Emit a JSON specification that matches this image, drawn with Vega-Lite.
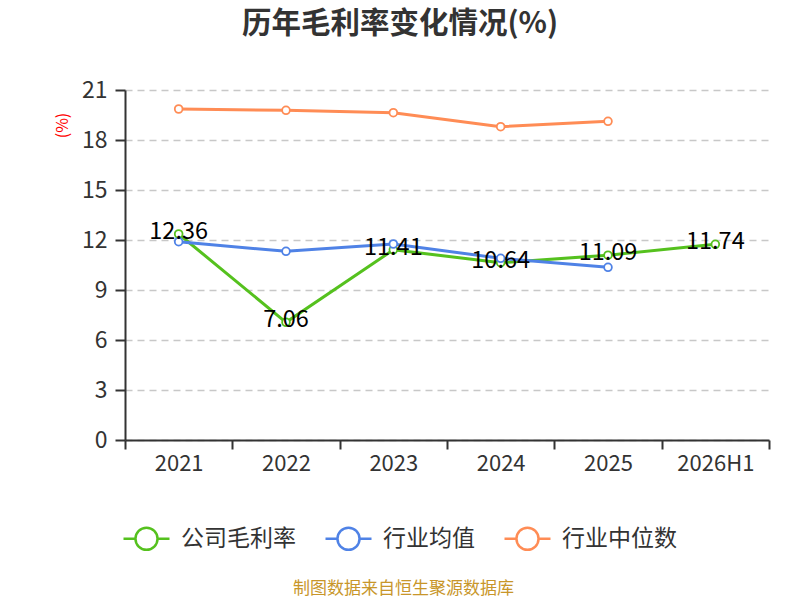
{
  "$schema": "https://vega.github.io/schema/vega-lite/v6.json",
  "autosize": {"type": "none"},
  "padding": {"left": 125, "top": 90, "right": 31, "bottom": 160},
  "width": 644,
  "height": 350,
  "background": "white",
  "view": {"stroke": null},
  "title": {
    "text": "历年毛利率变化情况(%)",
    "font": "Noto Sans CJK SC",
    "fontSize": 29.5,
    "fontWeight": "bold",
    "color": "#333333",
    "anchor": "middle",
    "dx": -47,
    "offset": 40
  },
  "data": {
    "values": [
      {"year": "2021", "series": "公司毛利率", "value": 12.36},
      {"year": "2022", "series": "公司毛利率", "value": 7.06},
      {"year": "2023", "series": "公司毛利率", "value": 11.41},
      {"year": "2024", "series": "公司毛利率", "value": 10.64},
      {"year": "2025", "series": "公司毛利率", "value": 11.09},
      {"year": "2026H1", "series": "公司毛利率", "value": 11.74},
      {"year": "2021", "series": "行业均值", "value": 11.9},
      {"year": "2022", "series": "行业均值", "value": 11.32},
      {"year": "2023", "series": "行业均值", "value": 11.76},
      {"year": "2024", "series": "行业均值", "value": 10.9},
      {"year": "2025", "series": "行业均值", "value": 10.36},
      {"year": "2021", "series": "行业中位数", "value": 19.86},
      {"year": "2022", "series": "行业中位数", "value": 19.78},
      {"year": "2023", "series": "行业中位数", "value": 19.64},
      {"year": "2024", "series": "行业中位数", "value": 18.8},
      {"year": "2025", "series": "行业中位数", "value": 19.12}
    ]
  },
  "encoding": {
    "x": {
      "field": "year",
      "type": "ordinal",
      "sort": ["2021", "2022", "2023", "2024", "2025", "2026H1"],
      "scale": {"domain": ["2021", "2022", "2023", "2024", "2025", "2026H1"], "paddingInner": 0, "paddingOuter": 0},
      "axis": {
        "title": "制图数据来自恒生聚源数据库",
        "titleFont": "Noto Sans CJK SC",
        "titleFontSize": 17,
        "titleFontWeight": "normal",
        "titleColor": "#c8962a",
        "titleX": 278,
        "titleY": 148,
        "titleBaseline": "middle",
        "labelAngle": 0,
        "labelFont": "Noto Sans CJK SC",
        "labelFontSize": 22,
        "labelColor": "#333333",
        "labelPadding": 4,
        "tickBand": "extent",
        "tickSize": 9,
        "tickWidth": 2,
        "tickColor": "#333333",
        "domainColor": "#333333",
        "domainWidth": 2,
        "grid": false
      }
    },
    "y": {
      "field": "value",
      "type": "quantitative",
      "scale": {"domain": [0, 21], "nice": false},
      "axis": {
        "values": [0, 3, 6, 9, 12, 15, 18, 21],
        "title": "(%)",
        "titleFont": "Noto Sans CJK SC",
        "titleFontSize": 16,
        "titleFontWeight": "normal",
        "titleColor": "#ff0000",
        "titleAngle": -90,
        "titleX": -63,
        "titleY": 35,
        "titleAlign": "center",
        "titleBaseline": "middle",
        "labelFont": "Noto Sans CJK SC",
        "labelFontSize": 23,
        "labelColor": "#333333",
        "labelPadding": 8,
        "tickSize": 10,
        "tickWidth": 2,
        "tickColor": "#333333",
        "domainColor": "#333333",
        "domainWidth": 2,
        "grid": true,
        "gridColor": "#c8c8c8",
        "gridWidth": 1.5,
        "gridDash": [7, 5]
      }
    },
    "color": {
      "field": "series",
      "type": "nominal",
      "sort": ["公司毛利率", "行业均值", "行业中位数"],
      "scale": {
        "domain": ["公司毛利率", "行业均值", "行业中位数"],
        "range": ["#55c11e", "#4f82e6", "#ff8c55"]
      },
      "legend": {
        "title": null,
        "orient": "none",
        "direction": "horizontal",
        "legendX": -3,
        "legendY": 424,
        "symbolType": "M-1,0L-0.48,0M0.48,0L1,0M-0.48,0A0.48,0.48,0,1,1,0.48,0A0.48,0.48,0,1,1,-0.48,0",
        "symbolSize": 2116,
        "symbolStrokeWidth": 2.5,
        "symbolFillColor": "white",
        "labelFont": "Noto Sans CJK SC",
        "labelFontSize": 23,
        "labelColor": "#333333",
        "labelOffset": 10,
        "columnPadding": 24
      }
    }
  },
  "layer": [
    {
      "mark": {"type": "line", "strokeWidth": 3}
    },
    {
      "mark": {"type": "point", "filled": false, "fill": "white", "size": 60, "strokeWidth": 1.8, "opacity": 1}
    },
    {
      "transform": [{"filter": "datum.series === '公司毛利率'"}],
      "mark": {"type": "text", "font": "Noto Sans CJK SC", "fontSize": 23.5, "color": "#000000", "baseline": "middle", "dy": -2},
      "encoding": {
        "text": {"field": "value", "type": "quantitative", "format": ".2f"},
        "color": {"value": "#000000"}
      }
    }
  ]
}
